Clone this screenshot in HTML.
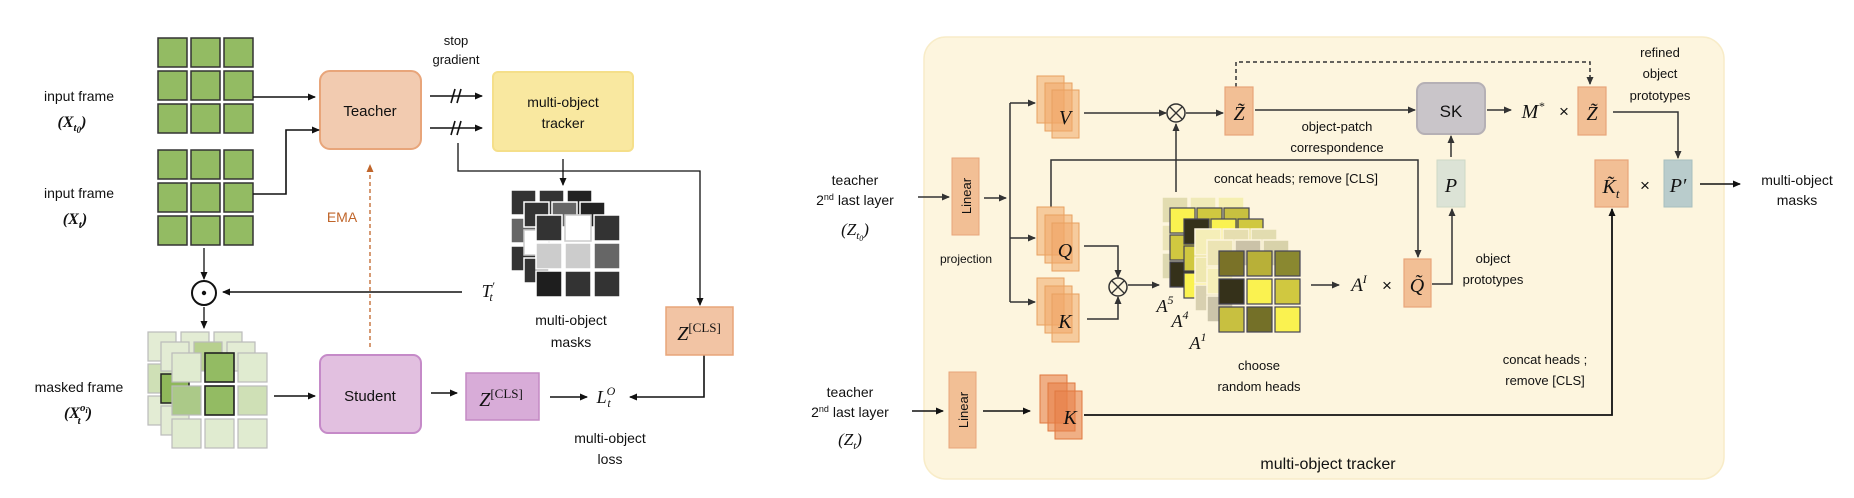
<!DOCTYPE html>
<html><head><meta charset="utf-8"><style>
html,body{margin:0;padding:0;background:#fff;}
svg{display:block;}
text{font-family:"Liberation Sans",sans-serif;fill:#111;}
.m{font-family:"Liberation Serif",serif;font-style:italic;}
</style></head><body>
<svg width="1854" height="498" viewBox="0 0 1854 498" xmlns="http://www.w3.org/2000/svg">
<defs>
<marker id="ar" markerWidth="8" markerHeight="8" refX="7" refY="4" orient="auto" markerUnits="userSpaceOnUse"><path d="M0,0.5 L8,4 L0,7.5 z" fill="#111"/></marker>
<marker id="ar2" markerWidth="8" markerHeight="8" refX="7" refY="4" orient="auto" markerUnits="userSpaceOnUse"><path d="M0,0.5 L8,4 L0,7.5 z" fill="#333"/></marker>
<marker id="ao" markerWidth="8" markerHeight="8" refX="7" refY="4" orient="auto" markerUnits="userSpaceOnUse"><path d="M0,0.5 L8,4 L0,7.5 z" fill="#c0652a"/></marker>
</defs>

<!-- ============ LEFT ============ -->
<g stroke="#333" stroke-width="1.5" fill="#93bb63">
<rect x="158" y="38" width="29" height="29"/><rect x="191" y="38" width="29" height="29"/><rect x="224" y="38" width="29" height="29"/>
<rect x="158" y="71" width="29" height="29"/><rect x="191" y="71" width="29" height="29"/><rect x="224" y="71" width="29" height="29"/>
<rect x="158" y="104" width="29" height="29"/><rect x="191" y="104" width="29" height="29"/><rect x="224" y="104" width="29" height="29"/>
<rect x="158" y="150" width="29" height="29"/><rect x="191" y="150" width="29" height="29"/><rect x="224" y="150" width="29" height="29"/>
<rect x="158" y="183" width="29" height="29"/><rect x="191" y="183" width="29" height="29"/><rect x="224" y="183" width="29" height="29"/>
<rect x="158" y="216" width="29" height="29"/><rect x="191" y="216" width="29" height="29"/><rect x="224" y="216" width="29" height="29"/>
</g>
<text x="79" y="101" font-size="14" text-anchor="middle">input frame</text>
<text x="72" y="127" font-size="16" text-anchor="middle" font-weight="bold" class="m">(X<tspan font-size="11" dy="4">t</tspan><tspan font-size="9" dy="2">0</tspan><tspan dy="-6">)</tspan></text>
<text x="79" y="198" font-size="14" text-anchor="middle">input frame</text>
<text x="75" y="224" font-size="16" text-anchor="middle" font-weight="bold" class="m">(X<tspan font-size="11" dy="4">t</tspan><tspan dy="-4">)</tspan></text>

<rect x="320" y="71" width="101" height="78" rx="10" fill="#f2cbb0" stroke="#e8a57a" stroke-width="2"/>
<text x="370" y="116" font-size="15" text-anchor="middle">Teacher</text>
<rect x="493" y="72" width="140" height="79" rx="5" fill="#f9e8a0" stroke="#f5df8a" stroke-width="2"/>
<text x="563" y="107" font-size="14" text-anchor="middle">multi-object</text>
<text x="563" y="128" font-size="14" text-anchor="middle">tracker</text>
<text x="456" y="45" font-size="13" text-anchor="middle">stop</text>
<text x="456" y="64" font-size="13" text-anchor="middle">gradient</text>

<g stroke="#111" stroke-width="1.6" fill="none">
<line x1="253" y1="97" x2="315" y2="97" marker-end="url(#ar)"/>
<polyline points="253,194 286,194 286,130 319,130" marker-end="url(#ar)"/>
<line x1="430" y1="96" x2="482" y2="96" marker-end="url(#ar)"/>
<line x1="430" y1="128" x2="482" y2="128" marker-end="url(#ar)"/>
<line x1="451" y1="103" x2="455" y2="89"/><line x1="457" y1="103" x2="461" y2="89"/>
<line x1="451" y1="135" x2="455" y2="121"/><line x1="457" y1="135" x2="461" y2="121"/>
<polyline points="458,143 458,171 700,171 700,305" stroke-width="1.3" marker-end="url(#ar)"/>
<line x1="563" y1="159" x2="563" y2="185" stroke-width="1.3" marker-end="url(#ar)"/>
<line x1="462" y1="292" x2="223" y2="292" marker-end="url(#ar)"/>
<line x1="204" y1="248" x2="204" y2="279" stroke-width="1.3" marker-end="url(#ar)"/>
<line x1="204" y1="307" x2="204" y2="328" stroke-width="1.3" marker-end="url(#ar)"/>
<line x1="274" y1="396" x2="315" y2="396" marker-end="url(#ar)"/>
<line x1="431" y1="393" x2="457" y2="393" marker-end="url(#ar)"/>
<line x1="550" y1="397" x2="587" y2="397" marker-end="url(#ar)"/>
<polyline points="704,355 704,397 630,397" marker-end="url(#ar)"/>
</g>
<circle cx="204" cy="293" r="12" fill="#fff" stroke="#111" stroke-width="2"/>
<circle cx="204" cy="293" r="2.2" fill="#111"/>
<line x1="370" y1="347" x2="370" y2="165" stroke="#c0652a" stroke-width="1.3" stroke-dasharray="4,3" marker-end="url(#ao)"/>
<text x="342" y="222" font-size="14" text-anchor="middle" style="fill:#c0652a">EMA</text>
<text x="488" y="297" font-size="18" text-anchor="middle" class="m">T<tspan font-size="12" dy="-7">′</tspan><tspan font-size="12" dx="-5" dy="11">t</tspan></text>

<!-- masks -->
<g stroke="#fff" stroke-width="1.5">
<rect x="511" y="190" width="25" height="25" fill="#333"/><rect x="539" y="190" width="25" height="25" fill="#333"/><rect x="567" y="190" width="25" height="25" fill="#222"/>
<rect x="511" y="218" width="25" height="25" fill="#666"/><rect x="511" y="246" width="25" height="25" fill="#333"/>
<rect x="524" y="202" width="25" height="25" fill="#333"/><rect x="552" y="202" width="25" height="25" fill="#666"/><rect x="580" y="202" width="25" height="25" fill="#222"/>
<rect x="524" y="230" width="25" height="25" fill="#fff" stroke="#ccc"/><rect x="524" y="258" width="25" height="25" fill="#333"/>
<rect x="536" y="215" width="26" height="26" fill="#333"/><rect x="565" y="215" width="26" height="26" fill="#fff" stroke="#ccc"/><rect x="594" y="215" width="26" height="26" fill="#333"/>
<rect x="536" y="243" width="26" height="26" fill="#ccc"/><rect x="565" y="243" width="26" height="26" fill="#ccc"/><rect x="594" y="243" width="26" height="26" fill="#666"/>
<rect x="536" y="271" width="26" height="26" fill="#1e1e1e"/><rect x="565" y="271" width="26" height="26" fill="#333"/><rect x="594" y="271" width="26" height="26" fill="#333"/>
</g>
<text x="571" y="325" font-size="14" text-anchor="middle">multi-object</text>
<text x="571" y="347" font-size="14" text-anchor="middle">masks</text>

<rect x="666" y="307" width="67" height="48" fill="#f2c4a4" stroke="#e8a57a" stroke-width="1.5"/>
<text x="699" y="340" font-size="20" text-anchor="middle" class="m">Z<tspan font-size="13" font-style="normal" dy="-8">[CLS]</tspan></text>

<!-- masked frame -->
<g stroke="#bbb" stroke-width="1.2">
<rect x="148" y="332" width="28" height="29" fill="#e3ecd4"/><rect x="181" y="332" width="28" height="29" fill="#e3ecd4"/><rect x="214" y="332" width="28" height="29" fill="#e3ecd4"/>
<rect x="148" y="364" width="28" height="29" fill="#cfe0b6"/><rect x="148" y="396" width="28" height="29" fill="#e3ecd4"/>
<rect x="161" y="342" width="28" height="29" fill="#e3ecd4"/><rect x="194" y="342" width="28" height="29" fill="#b7d08e"/><rect x="227" y="342" width="28" height="29" fill="#e3ecd4"/>
<rect x="161" y="374" width="28" height="29" fill="#8fb85a" stroke="#222" stroke-width="1.5"/><rect x="161" y="406" width="28" height="29" fill="#e3ecd4"/>
<rect x="172" y="353" width="29" height="29" fill="#e0ebd0"/><rect x="205" y="353" width="29" height="29" fill="#93bb63" stroke="#222" stroke-width="1.6"/><rect x="238" y="353" width="29" height="29" fill="#e0ebd0"/>
<rect x="172" y="386" width="29" height="29" fill="#abc988"/><rect x="205" y="386" width="29" height="29" fill="#93bb63" stroke="#222" stroke-width="1.6"/><rect x="238" y="386" width="29" height="29" fill="#cfe0b6"/>
<rect x="172" y="419" width="29" height="29" fill="#e0ebd0"/><rect x="205" y="419" width="29" height="29" fill="#e0ebd0"/><rect x="238" y="419" width="29" height="29" fill="#e0ebd0"/>
</g>
<text x="79" y="392" font-size="14" text-anchor="middle">masked frame</text>
<text x="78" y="418" font-size="16" text-anchor="middle" font-weight="bold" class="m">(X<tspan font-size="11" dy="-7">o</tspan><tspan font-size="8" dy="2">i</tspan><tspan font-size="11" dx="-10" dy="11">t</tspan><tspan dx="6" dy="-6">)</tspan></text>

<rect x="320" y="355" width="101" height="78" rx="8" fill="#e2c0e0" stroke="#c58ac8" stroke-width="2"/>
<text x="370" y="401" font-size="15" text-anchor="middle">Student</text>
<rect x="466" y="373" width="73" height="47" fill="#d8acd8" stroke="#c48ac4" stroke-width="1.5"/>
<text x="501" y="406" font-size="20" text-anchor="middle" class="m">Z<tspan font-size="13" font-style="normal" dy="-8">[CLS]</tspan></text>
<text x="606" y="403" font-size="18" text-anchor="middle" class="m">L<tspan font-size="12" dy="-8">O</tspan><tspan font-size="12" dx="-8" dy="12">t</tspan></text>
<text x="610" y="443" font-size="14" text-anchor="middle">multi-object</text>
<text x="610" y="464" font-size="14" text-anchor="middle">loss</text>

<!-- ============ RIGHT ============ -->
<rect x="924" y="37" width="800" height="442" rx="22" fill="#fdf5de" stroke="#f8ecc8" stroke-width="1.5"/>
<text x="855" y="185" font-size="14" text-anchor="middle">teacher</text>
<text x="855" y="205" font-size="14" text-anchor="middle">2<tspan font-size="9" dy="-5">nd</tspan><tspan dy="5"> last layer</tspan></text>
<text x="855" y="235" font-size="17" text-anchor="middle" class="m">(Z<tspan font-size="11" dy="4">t</tspan><tspan font-size="8" dy="2">0</tspan><tspan dy="-6">)</tspan></text>
<text x="850" y="397" font-size="14" text-anchor="middle">teacher</text>
<text x="850" y="417" font-size="14" text-anchor="middle">2<tspan font-size="9" dy="-5">nd</tspan><tspan dy="5"> last layer</tspan></text>
<text x="850" y="445" font-size="17" text-anchor="middle" class="m">(Z<tspan font-size="11" dy="4">t</tspan><tspan dy="-4">)</tspan></text>

<rect x="952" y="158" width="27" height="77" fill="#f2bf95" stroke="#e8a57a"/>
<text transform="translate(971,196) rotate(-90)" font-size="13" text-anchor="middle">Linear</text>
<text x="966" y="263" font-size="12" text-anchor="middle">projection</text>
<rect x="949" y="372" width="27" height="76" fill="#f2bf95" stroke="#e8a57a"/>
<text transform="translate(968,410) rotate(-90)" font-size="13" text-anchor="middle">Linear</text>

<g stroke="#333" stroke-width="1.5" fill="none">
<line x1="918" y1="197" x2="949" y2="197" marker-end="url(#ar2)"/>
<line x1="984" y1="198" x2="1006" y2="198" marker-end="url(#ar2)"/>
<line x1="1010" y1="103" x2="1010" y2="302"/>
<line x1="1010" y1="103" x2="1035" y2="103" marker-end="url(#ar2)"/>
<line x1="1010" y1="238" x2="1035" y2="238" marker-end="url(#ar2)"/>
<line x1="1010" y1="302" x2="1035" y2="302" marker-end="url(#ar2)"/>
<line x1="1084" y1="113" x2="1166" y2="113" marker-end="url(#ar2)"/>
<line x1="1186" y1="113" x2="1223" y2="113" marker-end="url(#ar2)"/>
<line x1="1255" y1="110" x2="1415" y2="110" marker-end="url(#ar2)"/>
<line x1="1487" y1="110" x2="1511" y2="110" marker-end="url(#ar2)"/>
<polyline points="1613,112 1678,112 1678,158" marker-end="url(#ar2)"/>
<line x1="1700" y1="184" x2="1740" y2="184" stroke="#111" marker-end="url(#ar)"/>
<line x1="1451" y1="157" x2="1451" y2="136" marker-end="url(#ar2)"/>
<polyline points="1051,207 1051,160 1418,160 1418,257" marker-end="url(#ar2)"/>
<line x1="1176" y1="192" x2="1176" y2="124" marker-end="url(#ar2)"/>
<polyline points="1084,246 1118,246 1118,277" marker-end="url(#ar2)"/>
<polyline points="1087,319 1118,319 1118,297" marker-end="url(#ar2)"/>
<line x1="1128" y1="285" x2="1159" y2="285" marker-end="url(#ar2)"/>
<line x1="1311" y1="285" x2="1339" y2="285" marker-end="url(#ar2)"/>
<polyline points="1432,284 1452,284 1452,209" marker-end="url(#ar2)"/>
<line x1="912" y1="411" x2="943" y2="411" stroke="#111" marker-end="url(#ar)"/>
<line x1="983" y1="411" x2="1030" y2="411" stroke="#111" marker-end="url(#ar)"/>
<polyline points="1084,415 1612,415 1612,209" stroke="#111" stroke-width="1.8" marker-end="url(#ar)"/>
<polyline points="1236,87 1236,62 1590,62 1590,84" stroke-dasharray="4,3" marker-end="url(#ar2)"/>
</g>
<g fill="#fdf5de" stroke="#333" stroke-width="1.5">
<circle cx="1176" cy="113" r="9"/><circle cx="1118" cy="287" r="9"/>
</g>
<g stroke="#333" stroke-width="1.3">
<line x1="1170" y1="107" x2="1182" y2="119"/><line x1="1182" y1="107" x2="1170" y2="119"/>
<line x1="1112" y1="281" x2="1124" y2="293"/><line x1="1124" y1="281" x2="1112" y2="293"/>
</g>

<!-- V Q K stacks -->
<g fill="#f0a868" fill-opacity="0.55" stroke="#e8a060" stroke-width="1">
<rect x="1037" y="76" width="27" height="47"/><rect x="1045" y="83" width="27" height="48"/><rect x="1052" y="90" width="27" height="48"/>
<rect x="1037" y="207" width="27" height="48"/><rect x="1045" y="215" width="27" height="48"/><rect x="1052" y="223" width="27" height="48"/>
<rect x="1037" y="278" width="27" height="47"/><rect x="1045" y="286" width="27" height="47"/><rect x="1052" y="294" width="27" height="48"/>
</g>
<g fill="#e8804a" fill-opacity="0.6" stroke="#e07840" stroke-width="1">
<rect x="1040" y="375" width="27" height="48"/><rect x="1048" y="383" width="27" height="48"/><rect x="1055" y="391" width="27" height="48"/>
</g>
<text x="1065" y="124" font-size="20" text-anchor="middle" class="m">V</text>
<text x="1065" y="257" font-size="20" text-anchor="middle" class="m">Q</text>
<text x="1065" y="328" font-size="20" text-anchor="middle" class="m">K</text>
<text x="1070" y="424" font-size="20" text-anchor="middle" class="m">K</text>

<g fill="#f2bf95" stroke="#e8a57a" stroke-width="1.2">
<rect x="1225" y="87" width="28" height="48"/><rect x="1578" y="87" width="28" height="48"/>
<rect x="1404" y="259" width="27" height="48"/><rect x="1595" y="160" width="33" height="47"/>
</g>
<text x="1239" y="120" font-size="20" text-anchor="middle" class="m">Z̃</text>
<text x="1592" y="120" font-size="20" text-anchor="middle" class="m">Z̃</text>
<text x="1417" y="292" font-size="20" text-anchor="middle" class="m">Q̃</text>
<text x="1611" y="193" font-size="20" text-anchor="middle" class="m">K̃<tspan font-size="13" dy="5">t</tspan></text>
<rect x="1417" y="83" width="68" height="51" rx="8" fill="#c9c5c9" stroke="#b5b0b5" stroke-width="2"/>
<text x="1451" y="117" font-size="17" text-anchor="middle">SK</text>
<text x="1533" y="118" font-size="20" text-anchor="middle" class="m">M<tspan font-size="12" dy="-8">*</tspan></text>
<text x="1564" y="117" font-size="17" text-anchor="middle">×</text>
<rect x="1437" y="160" width="28" height="47" fill="#dce3d6" stroke="#cdd8c6"/>
<text x="1451" y="192" font-size="20" text-anchor="middle" class="m">P</text>
<rect x="1664" y="160" width="28" height="47" fill="#b9cccc" stroke="#a8bebe"/>
<text x="1678" y="192" font-size="20" text-anchor="middle" class="m">P′</text>
<text x="1645" y="191" font-size="17" text-anchor="middle">×</text>
<text x="1359" y="291" font-size="19" text-anchor="middle" class="m">A<tspan font-size="12" dy="-8">I</tspan></text>
<text x="1387" y="291" font-size="17" text-anchor="middle">×</text>

<text x="1337" y="131" font-size="13" text-anchor="middle">object-patch</text>
<text x="1337" y="152" font-size="13" text-anchor="middle">correspondence</text>
<text x="1296" y="183" font-size="13" text-anchor="middle">concat heads; remove [CLS]</text>
<text x="1660" y="57" font-size="13" text-anchor="middle">refined</text>
<text x="1660" y="78" font-size="13" text-anchor="middle">object</text>
<text x="1660" y="100" font-size="13" text-anchor="middle">prototypes</text>
<text x="1797" y="185" font-size="14" text-anchor="middle">multi-object</text>
<text x="1797" y="205" font-size="14" text-anchor="middle">masks</text>
<text x="1493" y="263" font-size="13" text-anchor="middle">object</text>
<text x="1493" y="284" font-size="13" text-anchor="middle">prototypes</text>
<text x="1259" y="370" font-size="13" text-anchor="middle">choose</text>
<text x="1259" y="391" font-size="13" text-anchor="middle">random heads</text>
<text x="1545" y="364" font-size="13" text-anchor="middle">concat heads ;</text>
<text x="1545" y="385" font-size="13" text-anchor="middle">remove [CLS]</text>
<text x="1328" y="469" font-size="16" text-anchor="middle">multi-object tracker</text>

<!-- attention maps -->
<g stroke="#fdf5de" stroke-width="1.5">
<rect x="1162" y="197" width="26" height="26" fill="#e2dcb0"/><rect x="1190" y="197" width="26" height="26" fill="#f0eab8"/><rect x="1218" y="197" width="26" height="26" fill="#f5efb0"/>
<rect x="1162" y="225" width="26" height="26" fill="#ebe4b8"/><rect x="1162" y="253" width="26" height="26" fill="#ddd8b0"/>
</g>
<g stroke="#445" stroke-width="1.2">
<rect x="1170" y="208" width="25" height="25" fill="#faf250"/><rect x="1197" y="208" width="25" height="25" fill="#d0c840"/><rect x="1224" y="208" width="25" height="25" fill="#c8c040"/>
<rect x="1170" y="235" width="25" height="25" fill="#d0c840"/><rect x="1170" y="262" width="25" height="25" fill="#35311a"/>
<rect x="1184" y="219" width="25" height="25" fill="#35311a"/><rect x="1211" y="219" width="25" height="25" fill="#faf250"/><rect x="1238" y="219" width="25" height="25" fill="#d0c840"/>
<rect x="1184" y="246" width="25" height="25" fill="#d0c840"/><rect x="1184" y="273" width="25" height="25" fill="#faf250"/>
</g>
<g stroke="#fdf5de" stroke-width="1.5">
<rect x="1195" y="229" width="26" height="26" fill="#f5eeb8"/><rect x="1223" y="229" width="26" height="26" fill="#e6deb0"/><rect x="1251" y="229" width="26" height="26" fill="#e2dcb0"/>
<rect x="1195" y="257" width="26" height="26" fill="#efe8b0"/><rect x="1195" y="285" width="26" height="26" fill="#d8d0b0"/>
<rect x="1207" y="240" width="26" height="26" fill="#ece4b4"/><rect x="1235" y="240" width="26" height="26" fill="#cbc2a8"/><rect x="1263" y="240" width="26" height="26" fill="#d8d2aa"/>
<rect x="1207" y="268" width="26" height="26" fill="#f5eeb8"/><rect x="1207" y="296" width="26" height="26" fill="#cbc4aa"/>
</g>
<g stroke="#445" stroke-width="1.2">
<rect x="1219" y="251" width="25" height="25" fill="#7a7228"/><rect x="1247" y="251" width="25" height="25" fill="#b8b038"/><rect x="1275" y="251" width="25" height="25" fill="#8a8830"/>
<rect x="1219" y="279" width="25" height="25" fill="#35311a"/><rect x="1247" y="279" width="25" height="25" fill="#faf250"/><rect x="1275" y="279" width="25" height="25" fill="#d0c840"/>
<rect x="1219" y="307" width="25" height="25" fill="#c8c040"/><rect x="1247" y="307" width="25" height="25" fill="#747028"/><rect x="1275" y="307" width="25" height="25" fill="#faf250"/>
</g>
<text x="1165" y="312" font-size="18" text-anchor="middle" class="m">A<tspan font-size="12" dy="-8">5</tspan></text>
<text x="1180" y="327" font-size="18" text-anchor="middle" class="m">A<tspan font-size="12" dy="-8">4</tspan></text>
<text x="1198" y="349" font-size="18" text-anchor="middle" class="m">A<tspan font-size="12" dy="-8">1</tspan></text>
</svg>
</body></html>
